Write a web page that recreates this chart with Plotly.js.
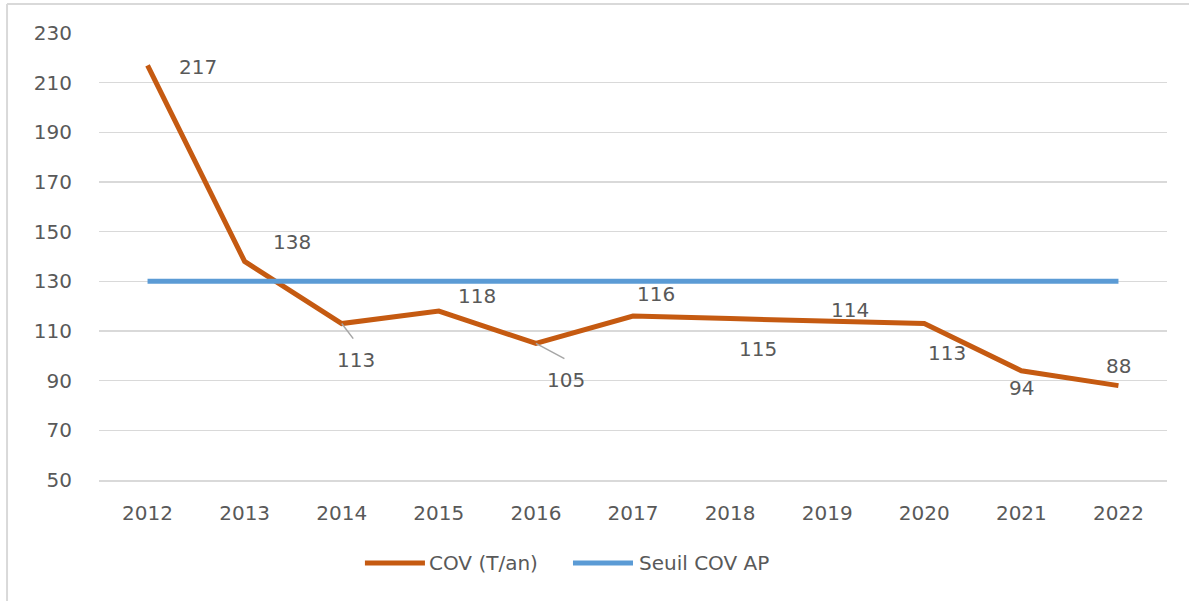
<!DOCTYPE html>
<html>
<head>
<meta charset="utf-8">
<script src="https://cdn.plot.ly/plotly-3.0.1.min.js"></script>
<style>html,body{margin:0;padding:0;background:#fff;}#chart{width:1189px;height:601px;}</style>
</head>
<body>
<div id="chart"></div>
<script>
// Data
var years = ['2012','2013','2014','2015','2016','2017','2018','2019','2020','2021','2022'];
var covValues = [217, 138, 113, 118, 105, 116, 115, 114, 113, 94, 88];
var seuilValues = [130, 130, 130, 130, 130, 130, 130, 130, 130, 130, 130];
var covName = 'COV (T/an)';
var seuilName = 'Seuil COV AP';
var yTicks = [50, 70, 90, 110, 130, 150, 170, 190, 210, 230];

// Label offsets (pixels) and leader-line ends (pixels, null = no leader)
var labelDx = [50, 47, 14, 38, 30, 23, 28, 23, 23, 0, 0];
var labelDy = [2, -19, 36, -15, 37, -22, 30, -11, 29, 17, -20];
var leaderDx = [null, null, 13, null, 30, null, null, null, null, null, null];
var leaderDy = [null, null, 17, null, 16, null, null, null, null, null, null];

var textColor = '#595959';
var fontFam = '"DejaVu Sans", sans-serif';
var covColor = '#C55A11';
var seuilColor = '#5B9BD5';

var traces = [
  {x: years, y: covValues, name: covName, type: 'scatter', mode: 'lines',
   line: {color: covColor, width: 5}, showlegend: false},
  {x: years, y: seuilValues, name: seuilName, type: 'scatter', mode: 'lines',
   line: {color: seuilColor, width: 5}, showlegend: false}
];

var annotations = [];
covValues.forEach(function(v, i) {
  if (leaderDx[i] !== null) {
    annotations.push({x: i, y: v, xref: 'x', yref: 'y', text: ' ',
      font: {family: fontFam, size: 1, color: textColor},
      ax: leaderDx[i], ay: leaderDy[i], axref: 'pixel', ayref: 'pixel', showarrow: true,
      arrowhead: 0, arrowwidth: 1.5, arrowcolor: '#A6A6A6', standoff: 0, startstandoff: 0});
  }
  annotations.push({x: i, y: v, xref: 'x', yref: 'y', text: String(v),
    font: {family: fontFam, size: 20, color: textColor},
    ax: labelDx[i], ay: labelDy[i], axref: 'pixel', ayref: 'pixel', showarrow: true,
    arrowwidth: 0.1, arrowcolor: 'rgba(0,0,0,0)'});
});

// Manual legend (wide line swatches like the original)
var legendY = -0.1857;
annotations.push({xref: 'paper', yref: 'paper', x: 0.3071, y: legendY, xanchor: 'left', yanchor: 'middle',
  text: covName, showarrow: false, font: {family: fontFam, size: 20, color: textColor}});
annotations.push({xref: 'paper', yref: 'paper', x: 0.5037, y: legendY, xanchor: 'left', yanchor: 'middle',
  text: seuilName, showarrow: false, font: {family: fontFam, size: 20, color: textColor}});

var layout = {
  width: 1189, height: 601,
  margin: {l: 99, r: 22, t: 33, b: 121},
  paper_bgcolor: '#ffffff', plot_bgcolor: '#ffffff',
  font: {family: fontFam, color: textColor, size: 20},
  showlegend: false,
  xaxis: {type: 'category', range: [-0.5, 10.5], showgrid: false, zeroline: false,
    showline: true, linecolor: '#D9D9D9', linewidth: 1.5, ticks: '',
    tickfont: {family: fontFam, size: 20, color: textColor}, ticklabelstandoff: 14, fixedrange: true},
  yaxis: {range: [50, 230], tickvals: yTicks, showgrid: true, gridcolor: '#D9D9D9', gridwidth: 1.5,
    zeroline: false, showline: false, ticks: '',
    tickfont: {family: fontFam, size: 20, color: textColor}, ticklabelstandoff: 26, fixedrange: true},
  annotations: annotations,
  shapes: [
    {type: 'line', xref: 'paper', yref: 'paper', x0: -0.0861, x1: 1.03, y0: 1.0648, y1: 1.0648,
     line: {color: '#D9D9D9', width: 2}},
    {type: 'line', xref: 'paper', yref: 'paper', x0: -0.0861, x1: -0.0861, y0: 1.0648, y1: -0.30,
     line: {color: '#D9D9D9', width: 2}},
    {type: 'line', xref: 'paper', yref: 'paper', x0: 0.249, x1: 0.3052, y0: legendY, y1: legendY,
     line: {color: covColor, width: 5}},
    {type: 'line', xref: 'paper', yref: 'paper', x0: 0.4438, x1: 0.5, y0: legendY, y1: legendY,
     line: {color: seuilColor, width: 5}}
  ]
};

Plotly.newPlot('chart', traces, layout, {displayModeBar: false, staticPlot: true});
</script>
</body>
</html>
